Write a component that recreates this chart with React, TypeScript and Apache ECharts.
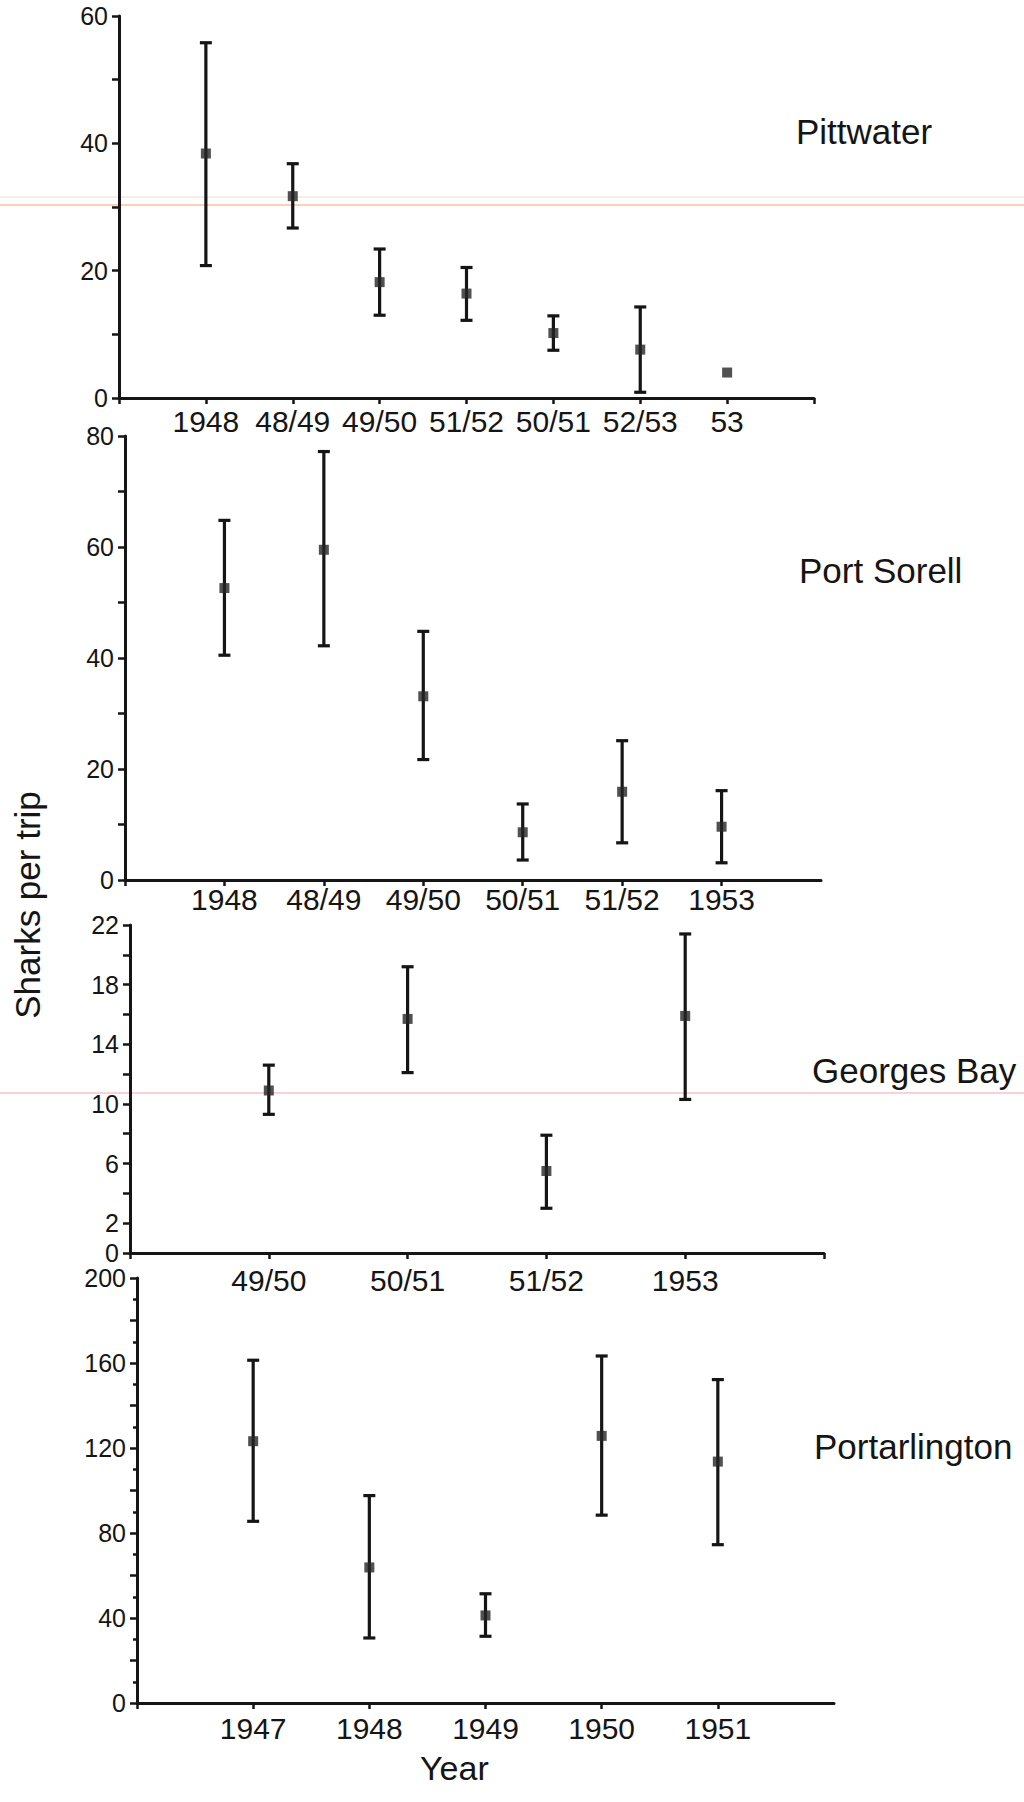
import React, { useEffect, useRef } from "react";
import * as echarts from "echarts";

// ---- Data ----
const pittCats = ["1948", "48/49", "49/50", "51/52", "50/51", "52/53", "53"];
const pittMean = [38.4, 31.7, 18.2, 16.4, 10.2, 7.6, 4.0];
const pittLow = [20.8, 26.7, 13.0, 12.2, 7.5, 0.9, null];
const pittHigh = [55.8, 36.8, 23.4, 20.5, 12.9, 14.3, null];

const sorellCats = ["1948", "48/49", "49/50", "50/51", "51/52", "1953"];
const sorellMean = [52.6, 59.5, 33.1, 8.6, 15.9, 9.6];
const sorellLow = [40.5, 42.2, 21.7, 3.6, 6.7, 3.1];
const sorellHigh = [64.8, 77.2, 44.8, 13.7, 25.1, 16.1];

const georgesCats = ["49/50", "50/51", "51/52", "1953"];
const georgesMean = [10.9, 15.7, 5.5, 15.9];
const georgesLow = [9.3, 12.1, 3.0, 10.3];
const georgesHigh = [12.6, 19.2, 7.9, 21.4];

const portCats = ["1947", "1948", "1949", "1950", "1951"];
const portMean = [123.2, 63.8, 41.2, 125.7, 113.6];
const portLow = [85.5, 30.6, 31.4, 88.4, 74.5];
const portHigh = [161.3, 97.6, 51.4, 163.3, 152.2];

const panelNames = ["Pittwater", "Port Sorell", "Georges Bay", "Portarlington"];
const yMax = [60, 80, 22, 200];
const yTickStep = [10, 10, 2, 20];

const FONT = "'Liberation Sans', Arial, Helvetica, sans-serif";
const INK = "#151515";

export default function App() {
  const ref = useRef<HTMLDivElement>(null);

  useEffect(() => {
    if (!ref.current) return;
    const chart = echarts.init(ref.current, undefined, { renderer: "svg" });

    const panels = [
      { cats: pittCats, mean: pittMean, low: pittLow, high: pittHigh, grid: { left: 119, top: 16, width: 695, height: 382 }, lastTick: true, labelMargin: 8, yLabel: (v: number) => (v % 20 === 0 ? String(v) : "") },
      { cats: sorellCats, mean: sorellMean, low: sorellLow, high: sorellHigh, grid: { left: 125, top: 436, width: 696, height: 444 }, lastTick: false, labelMargin: 4, yLabel: (v: number) => (v % 20 === 0 ? String(v) : "") },
      { cats: georgesCats, mean: georgesMean, low: georgesLow, high: georgesHigh, grid: { left: 130, top: 925, width: 694, height: 328 }, lastTick: true, labelMargin: 12, yLabel: (v: number) => (v === 0 || (v - 2) % 4 === 0 ? String(v) : "") },
      { cats: portCats, mean: portMean, low: portLow, high: portHigh, grid: { left: 137, top: 1278, width: 697, height: 425 }, lastTick: false, labelMargin: 10, yLabel: (v: number) => (v % 40 === 0 ? String(v) : "") },
    ];

    const grids: any[] = [];
    const xAxes: any[] = [];
    const yAxes: any[] = [];
    const series: any[] = [];

    panels.forEach((p, i) => {
      grids.push({ ...p.grid, containLabel: false });
      const axisCats = ["", ...p.cats, ""];
      const n = axisCats.length;
      xAxes.push({
        type: "category",
        gridIndex: i,
        data: axisCats,
        boundaryGap: false,
        axisLine: { show: true, lineStyle: { color: INK, width: 3 } },
        axisTick: {
          show: true,
          length: 6,
          interval: (idx: number) => (p.lastTick ? true : idx < n - 1),
          lineStyle: { color: INK, width: 2.5 },
        },
        axisLabel: { interval: 0, margin: p.labelMargin, color: INK, fontSize: 30, fontFamily: FONT },
        splitLine: { show: false },
      });
      yAxes.push({
        type: "value",
        gridIndex: i,
        min: 0,
        max: yMax[i],
        interval: yTickStep[i],
        axisLine: { show: true, lineStyle: { color: INK, width: 3 } },
        axisTick: { show: true, length: 7, lineStyle: { color: INK, width: 2.5 } },
        minorTick: i === 3 ? { show: true, splitNumber: 2, length: 4, lineStyle: { color: INK, width: 2.5 } } : { show: false },
        axisLabel: { margin: 11, color: INK, fontSize: 25, fontFamily: FONT, formatter: p.yLabel, showMinLabel: true, showMaxLabel: true },
        splitLine: { show: false },
      });

      const barData = p.cats
        .map((c, k) => [c, p.low[k], p.high[k]])
        .filter((d) => d[1] !== null && d[2] !== null);

      series.push({
        type: "custom",
        xAxisIndex: i,
        yAxisIndex: i,
        data: barData,
        renderItem: (params: any, api: any) => {
          const x = api.value(0);
          const lo = api.coord([x, api.value(1)]);
          const hi = api.coord([x, api.value(2)]);
          const cap = 6;
          const st = { stroke: INK, lineWidth: 3.2 };
          return {
            type: "group",
            children: [
              { type: "line", shape: { x1: lo[0], y1: lo[1], x2: hi[0], y2: hi[1] }, style: st },
              { type: "line", shape: { x1: lo[0] - cap, y1: lo[1], x2: lo[0] + cap, y2: lo[1] }, style: st },
              { type: "line", shape: { x1: hi[0] - cap, y1: hi[1], x2: hi[0] + cap, y2: hi[1] }, style: st },
            ],
          };
        },
        z: 2,
      });
      series.push({
        type: "scatter",
        xAxisIndex: i,
        yAxisIndex: i,
        symbol: "rect",
        symbolSize: 10,
        itemStyle: { color: "#262626" },
        data: p.cats.map((c, k) => [c, p.mean[k]]),
        z: 3,
      });
    });

    const titleText = (text: string, x: number, yc: number) => ({
      type: "text",
      x,
      y: yc,
      style: { text, fill: INK, font: `35px ${FONT}`, textVerticalAlign: "middle" },
    });

    chart.setOption({
      animation: false,
      backgroundColor: "#ffffff",
      grid: grids,
      xAxis: xAxes,
      yAxis: yAxes,
      series,
      graphic: [
        { type: "line", shape: { x1: 0, y1: 197, x2: 1024, y2: 197 }, style: { stroke: "#eadfd6", lineWidth: 1 }, silent: true },
        { type: "line", shape: { x1: 0, y1: 205, x2: 1024, y2: 205 }, style: { stroke: "#f4a27c", lineWidth: 1.2 }, silent: true },
        { type: "line", shape: { x1: 0, y1: 1093, x2: 1024, y2: 1093 }, style: { stroke: "#f5a3b3", lineWidth: 1 }, silent: true },
        titleText(panelNames[0], 796, 131),
        titleText(panelNames[1], 799, 570),
        titleText(panelNames[2], 812, 1070),
        titleText(panelNames[3], 814, 1446),
        {
          type: "text",
          x: 420,
          y: 1768,
          style: { text: "Year", fill: INK, font: `34px ${FONT}`, textVerticalAlign: "middle" },
        },
        {
          type: "text",
          x: 27,
          y: 905,
          rotation: Math.PI / 2,
          style: { text: "Sharks per trip", fill: INK, font: `35px ${FONT}`, textAlign: "center", textVerticalAlign: "middle" },
        },
      ],
    });

    return () => chart.dispose();
  }, []);

  return <div ref={ref} style={{ position: "absolute", left: 0, top: 0, width: 1024, height: 1802, background: "#fff" }} />;
}
